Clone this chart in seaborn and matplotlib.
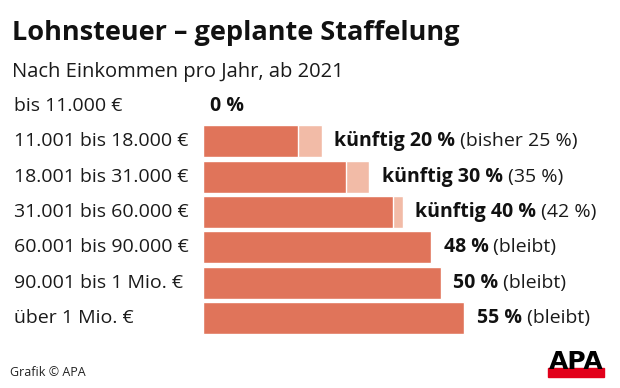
import matplotlib
matplotlib.use("Agg")
import matplotlib.pyplot as plt
import matplotlib.transforms as mtransforms
import seaborn as sns
import pandas as pd

# data
brackets = ["bis 11.000 €", "11.001 bis 18.000 €", "18.001 bis 31.000 €",
            "31.001 bis 60.000 €", "60.001 bis 90.000 €", "90.001 bis 1 Mio. €",
            "über 1 Mio. €"]
rate_new = [0, 20, 30, 40, 48, 50, 55]
rate_old = [0, 25, 35, 42, 48, 50, 55]
label_bold = ["0 %", "künftig 20 %", "künftig 30 %", "künftig 40 %", "48 %", "50 %", "55 %"]
label_rest = ["", " (bisher 25 %)", " (35 %)", " (42 %)", " (bleibt)", " (bleibt)", " (bleibt)"]

df = pd.DataFrame({"bracket": brackets, "new": rate_new, "old": rate_old})

sns.set_style("white")
plt.rcParams["font.family"] = ["Open Sans", "DejaVu Sans"]

dark = "#E0745A"
light = "#F2BBA7"

fig = plt.figure(figsize=(6.2, 3.88), dpi=100)
W, H = 620, 388
# axes: x from 203px, rows from y=88 to y=336
ax = fig.add_axes([203 / W, 1 - 336 / H, 1 - 203 / W, (336 - 88) / H])

sns.barplot(data=df, x="old", y="bracket", color=light, width=0.9, saturation=1, ax=ax)
sns.barplot(data=df, x="new", y="bracket", color=dark, width=0.9, saturation=1, ax=ax)
ax.set_xlim(0, (W - 203) / 4.75)
ax.set_ylim(6.5, -0.5)
ax.axis("off")

blend = mtransforms.blended_transform_factory(fig.transFigure, ax.transData)
for i, b in enumerate(brackets):
    ax.text(14 / W, i, b, transform=blend, ha="left", va="center", fontsize=14, color="#1a1a1a")

for i in range(len(brackets)):
    end = max(rate_new[i], rate_old[i])
    off = 5 if end == 0 else 9
    t = ax.annotate(label_bold[i], xy=(end, i), xytext=(off, 0), textcoords="offset points",
                    ha="left", va="center", fontsize=14, fontweight="bold", color="#111111")
    if label_rest[i]:
        ax.annotate(label_rest[i], xy=(1, 0.5), xycoords=t, ha="left", va="center",
                    fontsize=14, color="#1a1a1a")

fig.text(12 / W, 1 - 40 / H, "Lohnsteuer – geplante Staffelung", fontsize=19.5,
         fontweight="bold", ha="left", va="baseline", color="#111111")
fig.text(12 / W, 1 - 77 / H, "Nach Einkommen pro Jahr, ab 2021", fontsize=14.5,
         ha="left", va="baseline", color="#1a1a1a")
fig.text(10 / W, 1 - 376 / H, "Grafik © APA", fontsize=9, ha="left", va="baseline", color="#222222")

# APA logo
fig.patches.append(plt.Rectangle((548 / W, 1 - 377 / H), 56 / W, 9 / H,
                                 transform=fig.transFigure, color="#E2001A", zorder=1))
fig.text(576 / W, 1 - 369 / H, "APA", fontsize=18, fontweight="heavy", ha="center",
         va="baseline", color="black", family="DejaVu Sans", zorder=2)

fig.savefig("out.png", dpi=100)
